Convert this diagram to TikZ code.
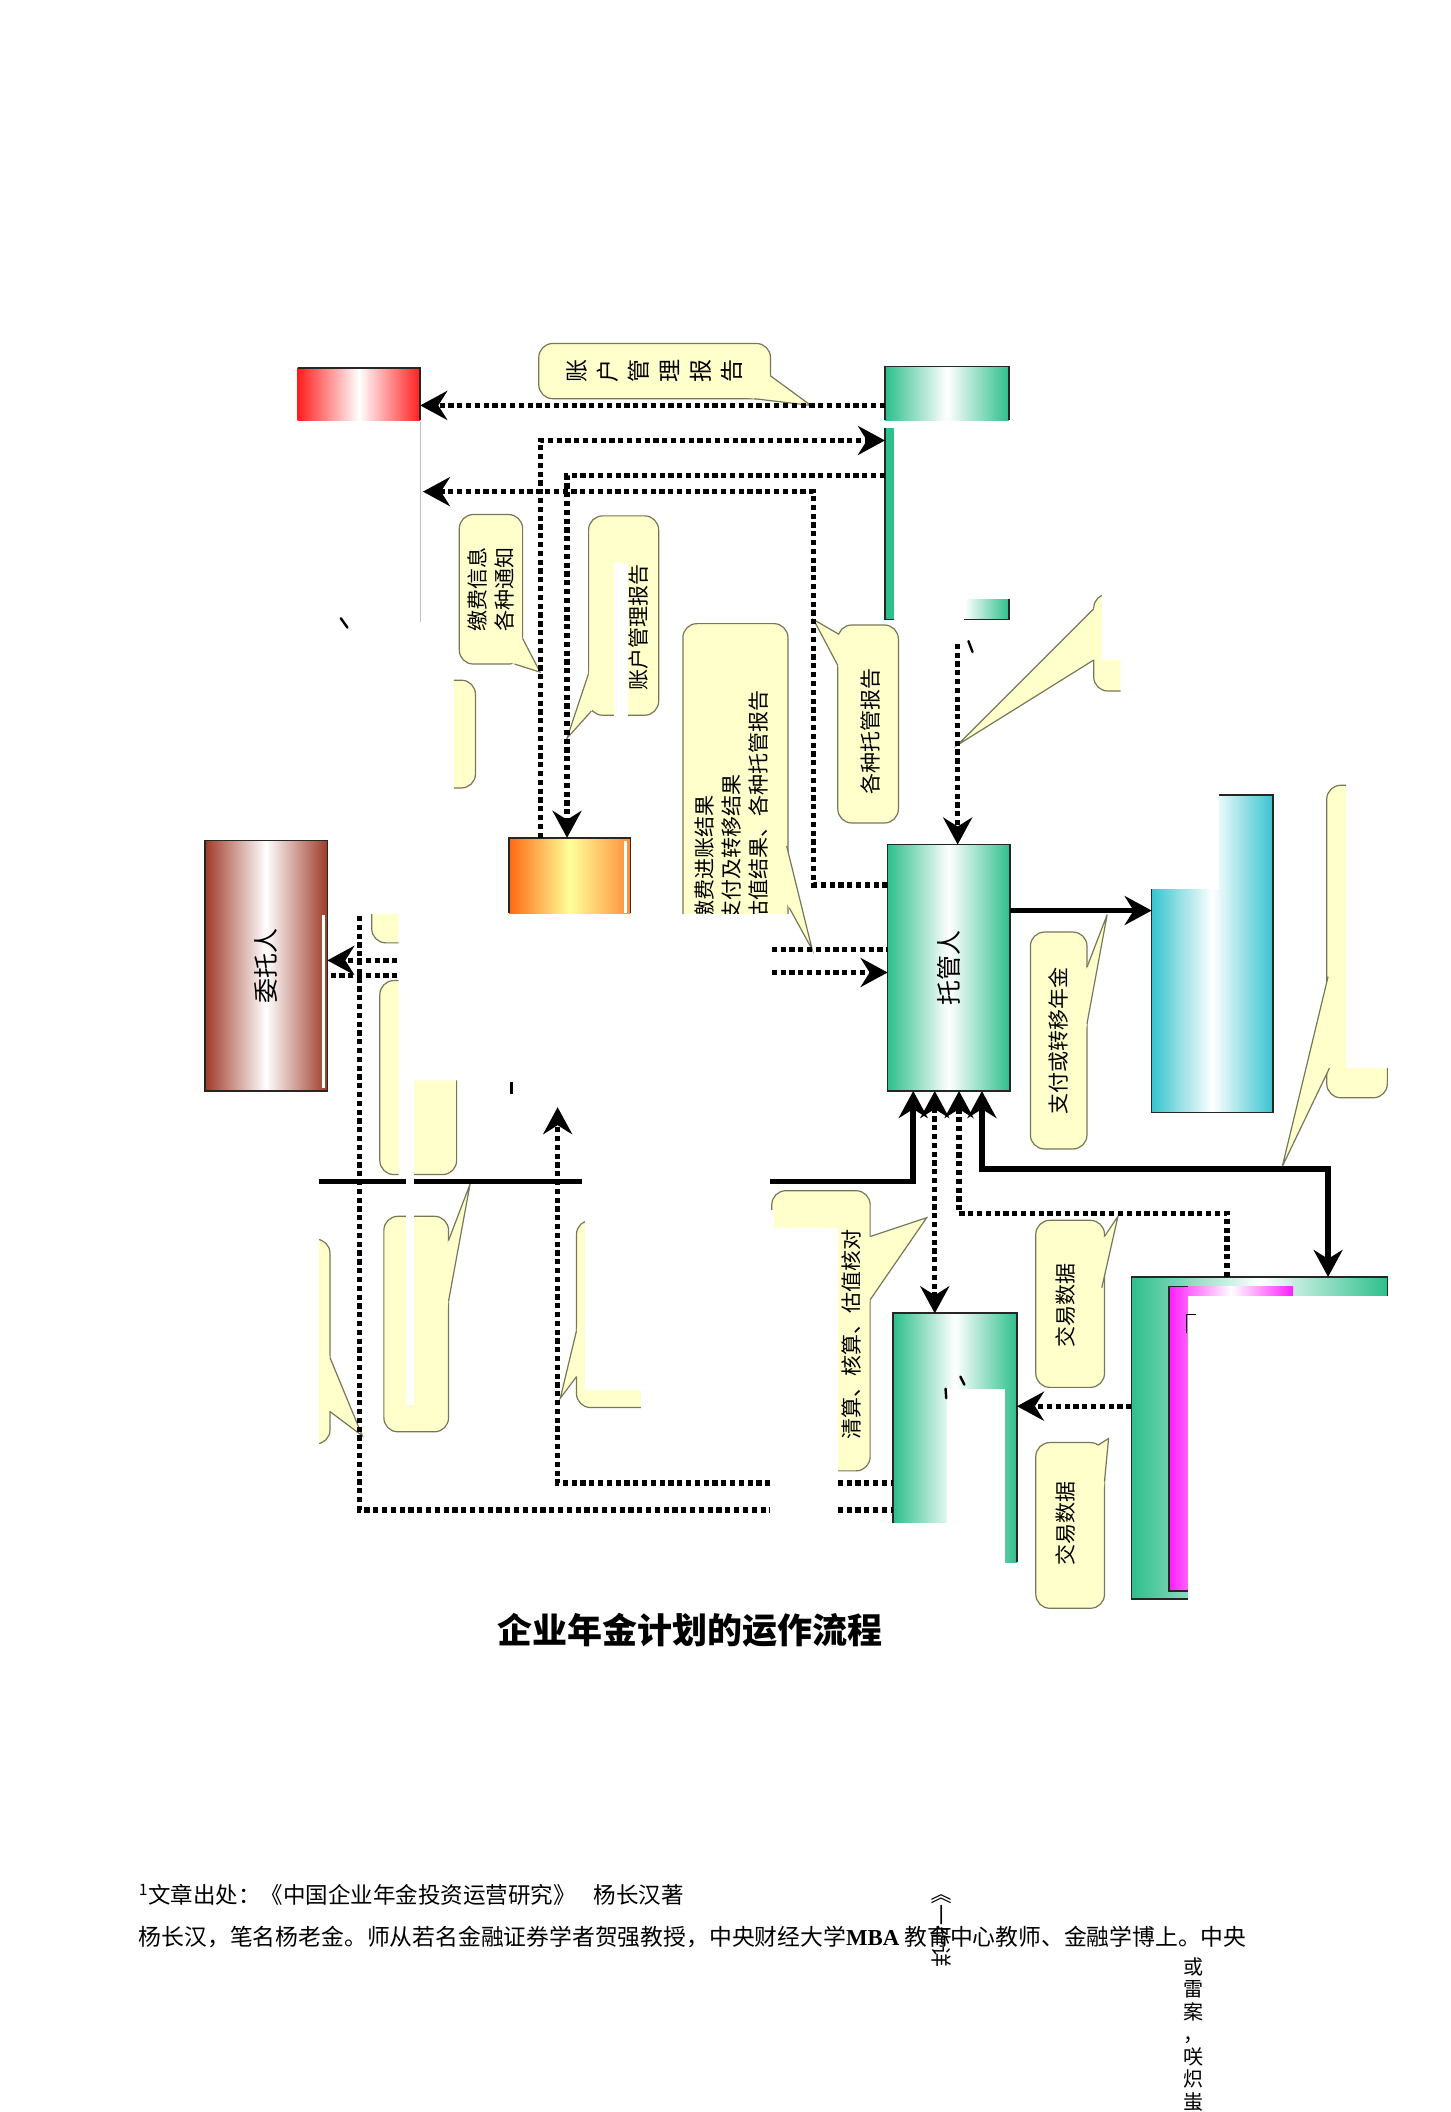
\documentclass[tikz,border=0pt]{standalone}
\usepackage{fontspec}
\setmainfont{Noto Sans CJK SC}
\newfontfamily\serifbf{Liberation Serif}
\usetikzlibrary{arrows.meta,calc,fit}
\definecolor{bubY}{HTML}{FFFFCC}
\definecolor{bubE}{HTML}{77775A}
\definecolor{grn}{HTML}{2DBF8C}
\definecolor{redc}{HTML}{FF1E1E}
\definecolor{brn}{HTML}{9E3A28}
\definecolor{org}{HTML}{FF6A12}
\definecolor{org2}{HTML}{FF8E3A}
\definecolor{yel}{HTML}{FFFF99}
\definecolor{cyn}{HTML}{38C4CE}
\definecolor{mag}{HTML}{FF1EFF}
\newcommand\btail[4][1.18]{%
  \fill[bubY] ($#3!#1!#2$) -- #3 -- ($#3!#1!#4$) -- cycle;
  \draw[bubE,line width=1.2pt] #2 -- #3 -- #4;}
\begin{document}
\begin{tikzpicture}[x=1.3463pt,y=-1.3463pt,
 box/.style={inner sep=0pt,outer sep=0pt},
 bedge/.style={draw=black!85,line width=1.6pt},
 bubble/.style={draw=bubE,fill=bubY,line width=1.2pt,rounded corners=14pt,inner sep=0pt,outer sep=0pt},
 btxt/.style={rotate=90,inner sep=0pt,font=\fontsize{21}{27}\selectfont,align=left},
 boxtxt/.style={rotate=90,inner sep=0pt,font=\fontsize{25}{30}\selectfont},
 dotln/.style={line width=5.2pt,dash pattern=on 5.2pt off 3.6pt,black},
 solidln/.style={line width=5.5pt,black},
 arr/.style={-{Stealth[length=27pt,width=29pt,inset=9pt]}},
 arrb/.style={{Stealth[length=27pt,width=29pt,inset=9pt]}-{Stealth[length=27pt,width=29pt,inset=9pt]}},
 strk/.style={line width=2.4pt,black,line cap=round}]
\fill[white] (0,0) rectangle (1077,1568);
\useasboundingbox (0,0) rectangle (1077,1568);

% ---------- bubbles (drawn first) ----------
\node[bubble,fit={(400,255)(572,296)}] (bA) {};
\node[rotate=90,inner sep=0pt,font=\fontsize{23}{31}\selectfont,align=center] (tA) at (bA.center) {账\\户\\管\\理\\报\\告};
\btail{(572,279)}{(602,301)}{(560,296)}

\node[bubble,fit={(341,382)(388,493)}] (bJ) {};
\node[btxt] (tJ) at (bJ.center) {缴费信息\\各种通知};
\btail{(388,474)}{(401,499)}{(382,493)}

\node[bubble,fit={(437,383)(489,531)}] (bK) {};
\fill[white] (456,418) rectangle (466,532);
\node[btxt] (tK) at (474,466) {账户管理报告};
\btail{(437,500)}{(421,548)}{(439,528)}

\begin{scope}
\clip (337,500) rectangle (360,590);
\node[bubble,fit={(300,505)(353,585)}] (bL) {};
\end{scope}

\begin{scope}
\clip (500,455) rectangle (600,678);
\node[bubble,fit={(507,463)(585,760)}] (bM) {};
\node[btxt,anchor=north west] (tM) at (516,684) {缴费进账结果\\支付及转移结果\\估值结果、各种托管报告};
\end{scope}
\btail{(584,628)}{(603,705)}{(586,674)}

\node[bubble,fit={(622,464)(667,611)}] (bN) {};
\node[btxt] (tN) at (646,543) {各种托管报告};
\btail{(623,471)}{(604,460)}{(622,494)}

\node[bubble,fit={(765,692)(807,853)}] (bP) {};
\node[btxt] (tP) at (786,773) {支付或转移年金};
\btail{(807,718)}{(822,679)}{(807,760)}

\node[bubble,fit={(573,884)(646,1092)}] (bQ) {};
\fill[white] (560,912) rectangle (622,1100);
\node[btxt] (tQ) at (632,991) {清算、核算、估值核对};
\btail{(646,918)}{(688,904)}{(646,965)}

\node[bubble,fit={(769,906)(820,1030)}] (bR) {};
\node[btxt] (tR) at (791,969) {交易数据};
\btail{(820,918)}{(830,903)}{(818,956)}

\node[bubble,fit={(769,1071)(820,1194)}] (bS) {};
\node[btxt] (tS) at (791,1131) {交易数据};
\btail{(815,1073)}{(823,1068)}{(820,1100)}

\begin{scope}
\clip (237,900) rectangle (300,1100);
\node[bubble,fit={(200,920)(245,1072)}] (bU1) {};
\end{scope}
\btail{(245,1008)}{(269,1066)}{(245,1048)}

\node[bubble,fit={(285,903)(333,1063)}] (bU2) {};
\btail{(333,921)}{(349,879)}{(333,966)}

\node[bubble,fit={(428,906)(520,1045)}] (bU3) {};
\fill[white] (434,898) rectangle (575,1032);
\fill[white] (476,1030) rectangle (530,1050);
\btail{(428,988)}{(416,1038)}{(428,1022)}

\node[bubble,fit={(985,583)(1030,815)}] (bW) {};
\fill[white] (999,575) rectangle (1036,793);
\btail{(986,725)}{(952,866)}{(987,793)}

\begin{scope}
\clip (805,438) rectangle (818,520) (818,490) rectangle (832,520);
\node[bubble,fit={(812,441)(870,513)}] (bX) {};
\end{scope}
\btail[1.03]{(812,452)}{(711,553)}{(812,490)}

\begin{scope}
\clip (270,679) rectangle (296,705);
\node[bubble,fit={(276,600)(340,700)}] (bR1) {};
\end{scope}
\begin{scope}
\clip (276,725) rectangle (296,880) (307,802) rectangle (345,880);
\node[bubble,fit={(282,728)(339,872)}] (bR2) {};
\end{scope}

% ---------- boxes ----------
\node[box,fit={(221,273)(312,312)},left color=redc,right color=redc,middle color=white] (red) {};
\draw[bedge] (red.north west) -- (red.north east) -- (red.south east);

\node[box,fit={(657,272)(749,312)},left color=grn,right color=grn,middle color=white] (acct) {};
\draw[bedge] (acct.south west) -- (acct.north west) -- (acct.north east) -- (acct.south east);

\node[box,fit={(657,318)(664,460)},fill=grn] (strip) {};
\draw[bedge] (strip.north west) -- (strip.south west) -- (strip.south east);
\node[box,fit={(716,445)(749,460)},left color=white,right color=grn] (gpiece) {};
\draw[bedge] (gpiece.north east) -- (gpiece.south east) -- (gpiece.south west);

\coordinate (g1) at (312,313);
\coordinate (g2) at (312,462);
\draw[black!25,line width=1pt] (g1) -- (g2);

\node[box,fit={(378,622)(468,678)},left color=org,right color=org2,middle color=yel] (orng) {};
\draw[bedge] (orng.south west) -- (orng.north west) -- (orng.north east) -- (orng.south east);
\draw[white,line width=2.4pt] (464.5,624) -- (464.5,678);

\node[box,fit={(152,624)(243,810)},left color=brn,right color=brn,middle color=white,draw=black!85,line width=1.6pt] (wtr) {};
\node[boxtxt] (wtrlab) at (wtr.center) {委托人};
\draw[white,line width=3pt] (240,679) -- (240,808);

\node[box,fit={(659,627)(750,810)},left color=grn,right color=grn,middle color=white,draw=black!85,line width=1.6pt] (tgr) {};
\node[boxtxt] (tgrlab) at (tgr.center) {托管人};

\node[box,fit={(855,590)(945,826)},left color=cyn,right color=cyn,middle color=white] (cyan) {};
\fill[white] (850,584) rectangle (905,660);
\draw[bedge] (905,590) -- (cyan.north east) -- (cyan.south east) -- (cyan.south west) -- (855,660);

\node[box,fit={(663,975)(755,1160)},left color=grn,right color=grn,middle color=white] (lgrn) {};
\fill[white] (703,1031) rectangle (746,1166);
\fill[white] (660,1131) rectangle (746,1166);
\draw[bedge] (663,1131) -- (lgrn.north west) -- (lgrn.north east) -- (lgrn.south east);

\node[box,fit={(840,948)(1030,1187)},left color=grn,right color=grn,middle color=white] (big) {};
\node[box,fit={(868,955)(960,1181)},left color=mag,right color=mag,middle color=white] (magb) {};
\fill[white] (882,962) rectangle (1036,1196);
\draw[bedge] (882,1187) -- (big.south west) -- (big.north west) -- (big.north east) -- (1030,962);
\draw[bedge] (882,1181) -- (magb.south west) -- (magb.north west) -- (882,955);
\draw[line width=1.6pt] (881,990) -- (881,976) -- (888,976);

% ---------- connectors ----------
\coordinate (l1) at (0,301);
\draw[dotln,arr] (acct.west |- l1) -- (red.east |- l1);

\coordinate (a1) at (401,327);
\draw[dotln,arr] (orng.north -| a1) -- (a1) -- (strip.west |- a1);

\coordinate (b1) at (421,353);
\draw[dotln,arr] (strip.west |- b1) -- (b1) -- (orng.north -| b1);

\coordinate (c1) at (604,657);
\coordinate (c2) at (604,365);
\coordinate (cEnd) at (314,365);
\draw[dotln,arr] (tgr.west |- c1) -- (c1) -- (c2) -- (cEnd);

\coordinate (d1) at (711,478);
\draw[dotln,arr] (d1) -- (tgr.north -| d1);

\coordinate (e1) at (295,713);
\draw[dotln,arr] (e1) -- (wtr.east |- e1);
\coordinate (e2) at (295,724);
\draw[dotln] (e2) -- (wtr.east |- e2);

\coordinate (f1) at (267,680);
\coordinate (f2) at (267,1121);
\coordinate (f3) at (572,1121);
\draw[dotln] (f1) -- (f2) -- (f3);
\coordinate (f4) at (622,1121);
\draw[dotln] (f4) -- (lgrn.west |- f4);

\coordinate (h1) at (414,822);
\coordinate (h2) at (414,1101);
\coordinate (h3) at (572,1101);
\draw[dotln,arr] (h3) -- (h2) -- (h1);
\coordinate (h4) at (622,1101);
\draw[dotln] (h4) -- (lgrn.west |- h4);

\coordinate (s1) at (237,877);
\coordinate (s2) at (432,877);
\draw[solidln] (s1) -- (s2);
\coordinate (s3) at (572,877);
\coordinate (s4) at (678,877);
\draw[solidln,arr] (s3) -- (s4) -- (tgr.south -| s4);

\coordinate (k1) at (694,0);
\draw[dotln,arrb] (tgr.south -| k1) -- (lgrn.north -| k1);

\coordinate (m1) at (712,901);
\coordinate (m2) at (911,901);
\draw[dotln,arr] (big.north -| m2) -- (m2) -- (m1) -- (tgr.south -| m1);

\coordinate (n1) at (729,868);
\coordinate (n2) at (986,868);
\draw[solidln,arrb] (tgr.south -| n1) -- (n1) -- (n2) -- (big.north -| n2);

\coordinate (p1) at (0,676);
\draw[solidln,arr] (tgr.east |- p1) -- (cyan.west |- p1);

\coordinate (q1) at (573,705);
\draw[dotln] (q1) -- (tgr.west |- q1);
\coordinate (q2) at (573,722);
\draw[dotln,arr] (q2) -- (tgr.west |- q2);

\coordinate (r1) at (0,1044);
\draw[dotln,arr] (big.west |- r1) -- (lgrn.east |- r1);

% white strip cutting through left part
\fill[white] (296,678) rectangle (307,860);
\fill[white] (301.5,860) rectangle (307.5,1043);

% stray marks
\draw[strk] (253,459) -- (258,466);
\draw[strk] (719,476) -- (722,484);
\draw[strk] (713,1022) -- (716,1028);
\draw[strk] (702,1031) -- (702.5,1038);
\draw[line width=3pt] (380,803) -- (380,812);

% ---------- texts below ----------
\node[font=\fontsize{35}{40}\selectfont\bfseries] (title) at (512,1210) {企业年金计划的运作流程};
\node[anchor=base west,inner sep=0pt,font=\fontsize{22.5}{26}\selectfont] (fn1) at (103,1413) {\textsuperscript{1}文章出处：《中国企业年金投资运营研究》\hspace{0.8em}杨长汉著};
\node[anchor=base west,inner sep=0pt,font=\fontsize{22.8}{26}\selectfont] (fn2) at (103,1444) {杨长汉，笔名杨老金。师从若名金融证券学者贺强教授，中央财经大学{\serifbf\bfseries MBA} 教育中心教师、金融学博上。中央};
\node[rotate=-90,anchor=west,inner sep=0pt,font=\fontsize{21}{25}\selectfont] (v1) at (699,1398) {《一毕详};
\node[anchor=north,inner sep=0pt,align=center,font=\fontsize{20}{22.5}\selectfont] (v2) at (886,1453) {或\\雷\\案\\，\\咲\\炽\\蚩};
\end{tikzpicture}
\end{document}
